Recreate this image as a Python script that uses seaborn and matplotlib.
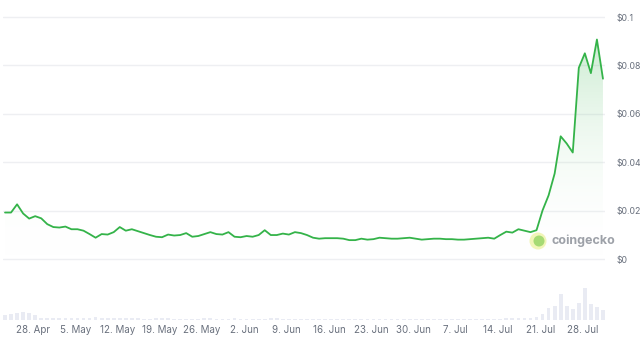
import numpy as np
import pandas as pd
import matplotlib
matplotlib.use("Agg")
import matplotlib.pyplot as plt
import matplotlib.dates as mdates
from matplotlib.patches import Ellipse
from matplotlib.colors import LinearSegmentedColormap
import seaborn as sns

# ---------------- data ----------------
start_date = "2024-04-23 09:00"
price = [0.0192, 0.0192, 0.0226, 0.0188, 0.0167, 0.0177, 0.0168, 0.0144, 0.0132, 0.0130,
         0.0134, 0.0123, 0.0123, 0.0117, 0.0103, 0.0088, 0.0103, 0.0101, 0.0111, 0.0132,
         0.0117, 0.0123, 0.0115, 0.0107, 0.0099, 0.0092, 0.0090, 0.0101, 0.0097, 0.0099,
         0.0107, 0.0092, 0.0095, 0.0103, 0.0111, 0.0103, 0.0101, 0.0111, 0.0092, 0.0090,
         0.0095, 0.0092, 0.0099, 0.0119, 0.0099, 0.0099, 0.0105, 0.0101, 0.0111, 0.0107,
         0.0099, 0.0088, 0.0084, 0.0086, 0.0086, 0.0086, 0.0084, 0.0078, 0.0078, 0.0084,
         0.0080, 0.0082, 0.0088, 0.0086, 0.0084, 0.0084, 0.0086, 0.0088, 0.0084, 0.0080,
         0.0082, 0.0084, 0.0084, 0.0082, 0.0082, 0.0080, 0.0080, 0.0082, 0.0084, 0.0086,
         0.0088, 0.0084, 0.0099, 0.0113, 0.0109, 0.0123, 0.0117, 0.0111, 0.0119, 0.0201,
         0.0263, 0.0353, 0.0507, 0.0477, 0.0440, 0.0790, 0.0850, 0.0768, 0.0907, 0.0745]
volume = [5, 6, 7, 8, 7, 5, 2.5, 2.5, 2, 2.5, 2, 2.5, 2, 2, 2.5, 3.5, 2.5, 2, 2, 2.5,
          2, 2, 2, 1.5, 1.5, 2, 2, 2, 1.5, 1.5, 1.5, 1.5, 1.5, 2.5, 2, 1.5, 1.5, 1.5, 2, 1.5,
          1, 1, 1, 1.5, 2, 2, 1.5, 1.5, 1.5, 1.5, 1.5, 1.5, 1.5, 1.5, 1.5, 1.5, 1.5, 1.5, 1.5, 1.5,
          1.5, 1.5, 1.5, 1.5, 1.5, 1.5, 1.5, 1.5, 1.5, 1.5, 1.5, 1.5, 1.5, 1.5, 1.5, 1.5, 1.5, 1.5, 1.5, 1.5,
          1.5, 1.5, 1.5, 2.5, 2, 2, 2, 2, 3, 6, 12.5, 14, 26, 14, 11, 17.5, 32.5, 16.5, 13, 10]
tick_dates = ["2024-04-28", "2024-05-05", "2024-05-12", "2024-05-19", "2024-05-26",
              "2024-06-02", "2024-06-09", "2024-06-16", "2024-06-23", "2024-06-30",
              "2024-07-07", "2024-07-14", "2024-07-21", "2024-07-28"]
tick_labels = ["28. Apr", "5. May", "12. May", "19. May", "26. May", "2. Jun", "9. Jun",
               "16. Jun", "23. Jun", "30. Jun", "7. Jul", "14. Jul", "21. Jul", "28. Jul"]
y_ticks = [0, 0.02, 0.04, 0.06, 0.08, 0.1]
y_labels = ["$0", "$0.02", "$0.04", "$0.06", "$0.08", "$0.1"]

dates = pd.date_range(start_date, periods=len(price), freq="D")
df = pd.DataFrame({"x": mdates.date2num(dates), "price": price, "volume": volume})

# ---------------- style ----------------
sns.set_theme(style="white")
plt.rcParams["font.family"] = ["Inter", "DejaVu Sans"]
GREEN = "#34b349"
LABEL = "#69707d"
GRID = "#eeeff2"

W, H = 640, 342
fig = plt.figure(figsize=(W / 100, H / 100), dpi=100)

px_per_day = 6.04
x0 = df["x"].iloc[0]
xlim = (x0 - 2 / px_per_day, x0 + 600 / px_per_day)
left = 3 / W
width = 602 / W

# main price axes: $0 at y=259px, $0.1 at y=17px
ylo, yhi = -0.002, 0.102
ppu = 242 / 0.1
top_px = 17 - (yhi - 0.1) * ppu
bot_px = 259 + (0 - ylo) * ppu
ax = fig.add_axes([left, (H - bot_px) / H, width, (bot_px - top_px) / H])
ax.set_xlim(*xlim)
ax.set_ylim(ylo, yhi)

for yt in y_ticks:
    ax.axhline(yt, color=GRID, lw=1.0, zorder=0)

# gradient fill under the line
cmap = LinearSegmentedColormap.from_list("g", [(1, 1, 1, 0), (0.20, 0.70, 0.29, 0.30)])
grad = np.linspace(0, 1, 256).reshape(-1, 1)
im = ax.imshow(grad, cmap=cmap, aspect="auto", origin="lower",
               extent=[xlim[0], xlim[1], 0, 0.1], zorder=1)
poly = ax.fill_between(df["x"], df["price"], 0, color="none", lw=0)
im.set_clip_path(poly.get_paths()[0], transform=ax.transData)

sns.lineplot(data=df, x="x", y="price", ax=ax, color=GREEN, lw=1.3, zorder=3)

ax.set_xticks([])
ax.yaxis.tick_right()
ax.set_yticks(y_ticks)
ax.set_yticklabels(y_labels)
ax.tick_params(axis="y", length=0, pad=8, labelsize=6.3, labelcolor=LABEL)
ax.set_xlabel("")
ax.set_ylabel("")
for s in ax.spines.values():
    s.set_visible(False)
ax.patch.set_alpha(0)

# volume axes
vax = fig.add_axes([left, (H - 320) / H, width, 50 / H], zorder=-1)
vax.bar(df["x"], df["volume"], width=0.62, color="#e9ebf3", linewidth=0)
vax.set_xlim(*xlim)
vax.set_ylim(0, 50)
vax.set_yticks([])
vax.set_xticks(mdates.date2num(pd.to_datetime(tick_dates)))
vax.set_xticklabels(tick_labels)
vax.tick_params(axis="x", length=0, pad=3.5, labelsize=7, labelcolor=LABEL)
for s in vax.spines.values():
    s.set_visible(False)

# watermark
fig.add_artist(Ellipse((538 / W, 1 - 241 / H), 17 / W, 17 / H, transform=fig.transFigure,
                       facecolor="#f1f5b8", edgecolor="none", zorder=5))
fig.add_artist(Ellipse((539 / W, 1 - 241 / H), 11 / W, 11 / H, transform=fig.transFigure,
                       facecolor="#a6da74", edgecolor="none", zorder=6))
fig.text(551 / W, 1 - 241 / H, "coingecko", color="#9da1a8", fontsize=9,
         fontweight="bold", va="center", ha="left", zorder=7)

fig.savefig("out.png", dpi=100)
